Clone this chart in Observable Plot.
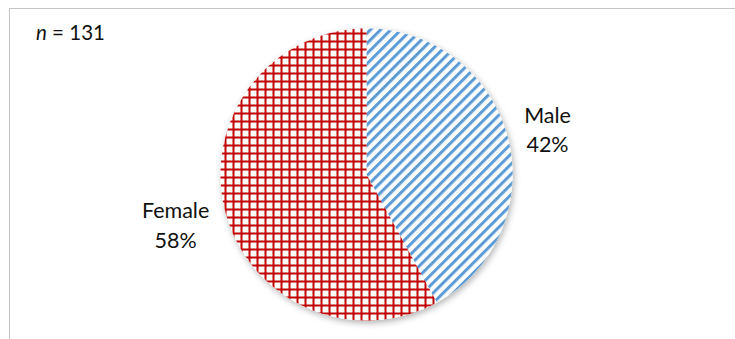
<!DOCTYPE html>
<html>
<head>
<meta charset="utf-8">
<script src="https://cdn.jsdelivr.net/npm/d3@7"></script>
<script src="https://cdn.jsdelivr.net/npm/@observablehq/plot@0.6"></script>
<style>
  html, body { margin: 0; padding: 0; background: #fff; }
  #wrap { position: relative; width: 735px; height: 339px; overflow: hidden; font-family: Lato, "Open Sans", sans-serif; }
  #border { position: absolute; left: 9px; top: 8px; width: 760px; height: 360px; border-top: 1.5px solid #c4c4c4; border-left: 1.5px solid #c4c4c4; }
  #note { position: absolute; left: 36px; top: 20px; font-size: 20.5px; color: #111; }
  #chart { position: absolute; left: 0; top: 0; }
</style>
</head>
<body>
<div id="wrap">
  <div id="border"></div>
  <div id="chart"></div>
  <div id="note"></div>
</div>
<script>
// ---- data ----
const categories = ["Male", "Female"];
const percents = [42, 58];
const sampleSize = 131;

// ---- styling (per category) ----
const fills = ["url(#pat-male)", "url(#pat-female)"];
const labelRadius = [1.28, 1.35];

// ---- derived pie geometry ----
const arcs = d3.pie().sort(null)(percents);
const sliceRows = categories.map((c, i) => {
  const a = arcs[i];
  const pts = [{cat: c, x: 0, y: 0}];
  const steps = 180;
  for (let k = 0; k <= steps; k++) {
    const t = a.startAngle + (a.endAngle - a.startAngle) * k / steps;
    pts.push({cat: c, x: Math.sin(t), y: Math.cos(t)});
  }
  return pts;
});
const labels = categories.map((c, i) => {
  const m = (arcs[i].startAngle + arcs[i].endAngle) / 2;
  return {text: `${c}\n${percents[i]}%`, x: Math.sin(m) * labelRadius[i], y: Math.cos(m) * labelRadius[i]};
});

const plot = Plot.plot({
  width: 735,
  height: 339,
  marginLeft: 220,
  marginRight: 223,
  marginTop: 28,
  marginBottom: 19,
  x: {domain: [-1, 1], axis: null},
  y: {domain: [-1, 1], axis: null},
  style: {background: "transparent", fontFamily: "Lato, 'Open Sans', sans-serif"},
  marks: [
    ...sliceRows.map((rows, i) => Plot.line(rows, {
      x: "x", y: "y", fill: fills[i], stroke: "none", curve: "linear-closed", className: "slice"
    })),
    Plot.text(labels, {
      x: "x", y: "y", text: "text", fontSize: 21.5, lineHeight: 1.38,
      textAnchor: "middle", lineAnchor: "middle", fill: "#111"
    })
  ]
});

// patterns and shadow
const svg = d3.select(plot);
const defs = svg.insert("defs", ":first-child");
const P = 7.2;
const pm = defs.append("pattern").attr("id", "pat-male")
  .attr("patternUnits", "userSpaceOnUse").attr("width", P).attr("height", P)
  .attr("patternTransform", "rotate(45)");
pm.append("rect").attr("width", P).attr("height", P).attr("fill", "#fff");
pm.append("rect").attr("width", 3).attr("height", P).attr("fill", "#5b9bd5");
const pf = defs.append("pattern").attr("id", "pat-female")
  .attr("patternUnits", "userSpaceOnUse").attr("width", 8).attr("height", 8);
pf.append("rect").attr("width", 8).attr("height", 8).attr("fill", "#fff");
pf.append("rect").attr("width", 2).attr("height", 8).attr("fill", "#c00000");
pf.append("rect").attr("width", 8).attr("height", 2).attr("fill", "#c00000");
const flt = defs.append("filter").attr("id", "shadow").attr("x", "-20%").attr("y", "-20%").attr("width", "140%").attr("height", "140%");
flt.append("feDropShadow").attr("dx", 1.5).attr("dy", 2.5).attr("stdDeviation", 3)
  .attr("flood-color", "#000").attr("flood-opacity", 0.3);
// group slices for a common shadow
const slices = svg.selectAll("g.slice").nodes();
if (slices.length) {
  const g = svg.insert("g", () => slices[0]).attr("filter", "url(#shadow)");
  slices.forEach(n => g.node().appendChild(n));
}

document.getElementById("chart").appendChild(plot);
document.getElementById("note").innerHTML = `<i>n</i> = ${sampleSize}`;
</script>
</body>
</html>
